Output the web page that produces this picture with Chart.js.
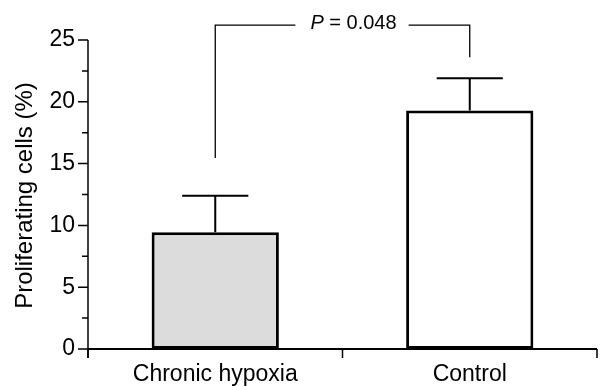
<!DOCTYPE html>
<html>
<head>
<meta charset="utf-8">
<script src="https://cdn.jsdelivr.net/npm/chart.js@4.4.0/dist/chart.umd.min.js"></script>
<style>
  body { margin: 0; background: #fff; }
  #wrap { width: 608px; height: 386px; }
</style>
</head>
<body>
<div id="wrap"><canvas id="prolifChart" width="608" height="386"></canvas></div>
<script>
// values
const categories = ['Chronic hypoxia', 'Control'];
const means = [9.45, 19.3];
const errors = [2.95, 2.6];          // upper error bar length
const barFills = ['#dcdcdc', '#ffffff'];
const yTickValues = [0, 5, 10, 15, 20, 25];
const legBottoms = [15.45, 23.6];    // where the bracket legs stop
const bracketTop = 26.2;
const pLabel = '0.048';

const FONT = "'Liberation Sans', Arial, Helvetica, sans-serif";

// draws error bars, axes, ticks, title and the significance bracket
const extrasPlugin = {
  id: 'extras',
  afterDatasetsDraw(chart) {
    const { ctx, scales: { x, y } } = chart;
    const meta = chart.getDatasetMeta(0);
    ctx.save();
    ctx.strokeStyle = '#000';
    ctx.lineCap = 'butt';

    // error bars (upper only)
    ctx.lineWidth = 2;
    meta.data.forEach((bar, i) => {
      const cx = bar.x;
      const top = y.getPixelForValue(means[i] + errors[i]);
      const half = bar.width * 0.26;
      ctx.beginPath();
      ctx.moveTo(cx, bar.y);
      ctx.lineTo(cx, top);
      ctx.moveTo(cx - half, top);
      ctx.lineTo(cx + half, top);
      ctx.stroke();
    });

    // y axis line + ticks
    const y0 = y.getPixelForValue(0);
    ctx.lineWidth = 1.5;
    ctx.beginPath();
    ctx.moveTo(x.left, y.getPixelForValue(25));
    ctx.lineTo(x.left, y0 + 9);
    for (let v = 0; v <= 25; v += 2.5) {
      const py = y.getPixelForValue(v);
      const len = v % 5 === 0 ? 10 : 6;
      ctx.moveTo(x.left - len, py);
      ctx.lineTo(x.left, py);
    }
    ctx.stroke();

    // x axis line + boundary ticks
    ctx.lineWidth = 2;
    ctx.beginPath();
    ctx.moveTo(x.left, y0);
    ctx.lineTo(x.right, y0);
    ctx.stroke();
    const midX = (x.getPixelForValue(0) + x.getPixelForValue(1)) / 2;
    ctx.lineWidth = 1.5;
    ctx.beginPath();
    [x.left, midX, x.right].forEach(px => {
      ctx.moveTo(px, y0);
      ctx.lineTo(px, y0 + 9);
    });
    ctx.stroke();

    // y axis title
    ctx.fillStyle = '#000';
    ctx.save();
    ctx.translate(25, (y.top + y0) / 2 + 1);
    ctx.rotate(-Math.PI / 2);
    ctx.font = '24px ' + FONT;
    ctx.textAlign = 'center';
    ctx.textBaseline = 'middle';
    ctx.fillText('Proliferating cells (%)', 0, 0);
    ctx.restore();

    // significance bracket
    const lx = x.getPixelForValue(0);
    const rx = x.getPixelForValue(1);
    const ty = y.getPixelForValue(bracketTop);
    ctx.font = 'italic 20px ' + FONT;
    const pW = ctx.measureText('P').width;
    ctx.font = '20px ' + FONT;
    const restTxt = ' = ' + pLabel;
    const rW = ctx.measureText(restTxt).width;
    const textW = pW + rW;
    const tcx = midX + 11;
    const tx = tcx - textW / 2;
    ctx.lineWidth = 1.3;
    ctx.beginPath();
    ctx.moveTo(lx, y.getPixelForValue(legBottoms[0]));
    ctx.lineTo(lx, ty);
    ctx.lineTo(tx - 15, ty);
    ctx.moveTo(tx + textW + 12, ty);
    ctx.lineTo(rx, ty);
    ctx.lineTo(rx, y.getPixelForValue(legBottoms[1]));
    ctx.stroke();
    ctx.textBaseline = 'middle';
    ctx.textAlign = 'left';
    ctx.font = 'italic 20px ' + FONT;
    ctx.fillText('P', tx, ty - 2);
    ctx.font = '20px ' + FONT;
    ctx.fillText(restTxt, tx + pW, ty - 2);
    ctx.restore();
  }
};

new Chart(document.getElementById('prolifChart'), {
  type: 'bar',
  data: {
    labels: categories,
    datasets: [{
      data: means,
      backgroundColor: barFills,
      borderColor: '#000',
      borderWidth: 3,
      borderSkipped: false,
      categoryPercentage: 1,
      barPercentage: 0.5
    }]
  },
  options: {
    responsive: false,
    animation: false,
    devicePixelRatio: 1,
    layout: { padding: { top: 40, right: 11, left: 0, bottom: 0 } },
    plugins: { legend: { display: false }, tooltip: { enabled: false } },
    scales: {
      x: {
        grid: { display: false, drawTicks: false },
        border: { display: false },
        ticks: { color: '#000', font: { family: FONT, size: 23 }, padding: 12 },
        afterFit: (s) => { s.height = 37; }
      },
      y: {
        min: 0,
        max: 25,
        grid: { display: false, drawTicks: false },
        border: { display: false },
        afterBuildTicks: (s) => { s.ticks = yTickValues.map(v => ({ value: v })); },
        ticks: { color: '#000', font: { family: FONT, size: 23 }, padding: 13 },
        afterFit: (s) => { s.width = 88; }
      }
    }
  },
  plugins: [extrasPlugin]
});
</script>
</body>
</html>
